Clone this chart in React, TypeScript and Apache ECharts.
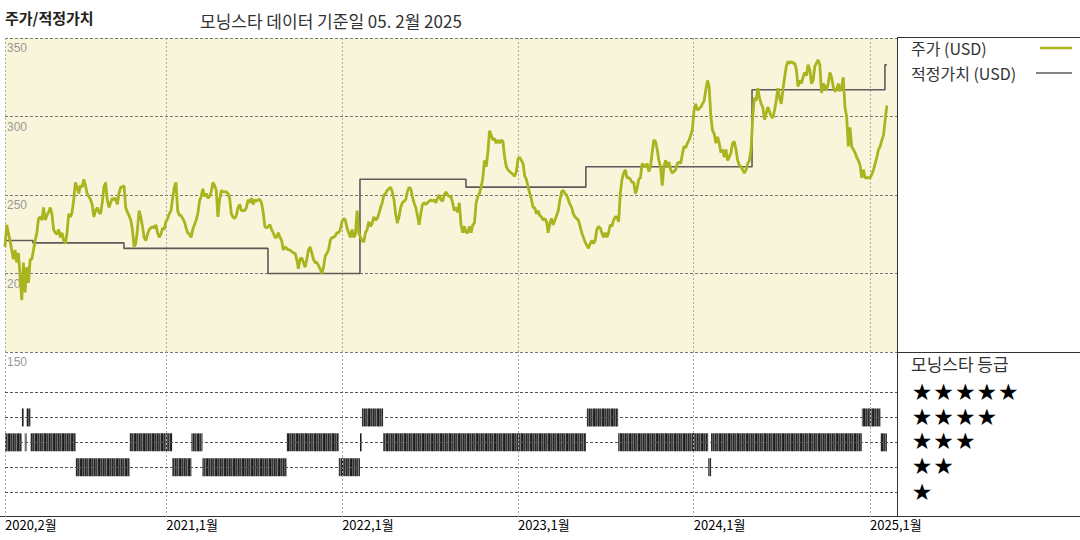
import React, { useEffect, useRef } from 'react';
import * as echarts from 'echarts';

// ---- Data ----
const PRICE_START = '2020-02-01';
const PRICE_END = '2025-02-05';
// Share price (USD) at roughly half-week spacing
const PRICE_USD = [
  217, 231, 226, 221, 215, 209, 215, 207, 213, 198, 183,
  207, 188, 204, 194, 209, 209, 215, 221, 226, 235,
  236, 234, 242, 234, 237, 239, 242, 238, 228, 226,
  225, 228, 223, 226, 221, 219, 226, 238, 236, 239,
  247, 258, 255, 251, 256, 255, 260, 256, 251, 249,
  247, 244, 236, 240, 242, 239, 238, 245, 255, 258,
  247, 242, 245, 248, 247, 248, 244, 251, 255, 255,
  256, 242, 239, 237, 234, 228, 217, 219, 228, 240,
  236, 230, 223, 221, 225, 228, 229, 230, 229, 231,
  226, 223, 225, 229, 228, 233, 235, 238, 240, 248,
  255, 258,
  240, 237, 237, 235, 233, 229, 226, 225, 223, 228,
  231, 234, 238, 246, 249, 254, 249, 251, 248, 249,
  252, 258, 256, 253, 236, 247, 253, 252, 252, 252,
  251, 248, 238, 236, 235, 237, 242, 244, 240, 240,
  240, 242, 247, 245, 248, 244, 247, 246, 247, 247,
  245, 239, 230, 229, 230, 231, 228, 226, 223, 223,
  226, 223, 221, 215, 217, 216, 215, 215, 214, 213,
  213, 209, 203, 209, 210, 207, 204, 209, 215, 217,
  213, 209, 207, 207, 205, 203, 200, 204, 211, 213,
  215, 221, 223, 223, 224, 226, 226, 228, 233, 235,
  234,
  229, 226, 223, 228, 223, 225, 240, 226, 223, 221,
  220, 226, 228, 233, 230, 232, 236, 234, 235, 238,
  242, 245, 250, 251, 253, 254, 255, 252, 247, 238,
  232, 236, 242, 245, 246, 247, 252, 255, 254, 249,
  245, 242, 237, 231, 238, 244, 245, 244, 245, 246,
  247, 246, 247, 245, 248, 250, 247, 246, 250, 252,
  250, 249, 249, 245, 240, 242, 239, 245, 231, 226,
  230, 226, 226, 230, 226, 231, 232, 245, 249, 251,
  255, 261, 272, 268, 277, 291, 288, 285, 286, 283,
  285, 283, 285, 284, 274, 268, 266, 265, 264, 263,
  262, 265, 273, 274, 272, 270, 262, 260,
  255, 251, 247, 242, 242, 238, 240, 237, 236, 234,
  235, 233, 226, 232, 235, 231, 234, 237, 240, 247,
  252, 253, 251, 250, 247, 244, 242, 238, 236, 235,
  234, 230, 226, 223, 220, 218, 216, 219, 221, 219,
  221, 228, 230, 229, 226, 223, 226, 223, 226, 231,
  230, 234, 236, 236, 233, 251, 260, 264, 266, 261,
  261, 260, 258, 258, 251, 254, 260, 261, 270, 269,
  268, 270, 265, 268, 277, 285, 284, 279, 272, 268,
  256, 268, 272, 268, 271, 266, 264, 265, 266, 270,
  271, 270, 276, 281, 280, 283, 285, 288, 292, 304,
  308,
  304, 305, 306, 308, 310, 317, 323, 319, 300, 291,
  289, 283, 287, 283, 277, 279, 274, 279, 272, 274,
  277, 283, 284, 279, 272, 269, 268, 266, 264, 266,
  270, 272, 279, 300, 312, 310, 318, 312, 308, 306,
  298, 302, 306, 303, 300, 299, 304, 310, 318, 312,
  308, 317, 325, 332, 335, 334, 335, 334, 334, 330,
  319, 323, 321, 325, 328, 326, 333, 330, 321, 323,
  332, 334, 336, 333, 315, 321, 319, 317, 321, 328,
  325, 319, 316, 317, 321, 316, 319, 325, 306, 300,
  281, 293, 281, 279, 277, 274, 272, 269, 261, 266,
  261, 261, 261, 261, 263, 266, 270, 274, 279, 281,
  285, 288, 298, 307,
];

// Fair value (USD), step changes
const FAIR_VALUE_DATES = [
  '2020-02-01', '2020-03-30', '2020-10-05', '2021-07-31', '2022-02-07',
  '2022-09-15', '2023-05-22', '2024-05-01', '2025-02-01', '2025-02-05',
];
const FAIR_VALUE_USD = [221, 219.5, 216, 200, 260, 255, 268, 317, 333, 333];

// Morningstar rating periods
const RATING_FROM = [
  '2020-02-01', '2020-03-07', '2020-03-13', '2020-03-17', '2020-03-25', '2020-06-27',
  '2020-10-17', '2021-01-13', '2021-02-22', '2021-03-17', '2021-09-08', '2021-12-25',
  '2022-02-07', '2022-02-11', '2022-03-27', '2023-05-24', '2023-07-28', '2024-01-31',
  '2024-02-06', '2024-12-15', '2025-01-23',
];
const RATING_TO = [
  '2020-03-07', '2020-03-11', '2020-03-15', '2020-03-25', '2020-06-27', '2020-10-17',
  '2021-01-13', '2021-02-22', '2021-03-17', '2021-09-08', '2021-12-25', '2022-02-07',
  '2022-02-10', '2022-03-27', '2023-05-22', '2023-07-28', '2024-01-31', '2024-02-06',
  '2024-12-15', '2025-01-23', '2025-02-05',
];
const RATING_STARS = [3, 4, 3, 4, 3, 2, 3, 2, 3, 2, 3, 2, 3, 4, 3, 4, 3, 2, 3, 4, 3];

const AXIS_MIN = '2020-02-01';
const AXIS_MAX = '2025-02-26';
const X_TICKS = ['2020-02-01', '2021-01-01', '2022-01-01', '2023-01-01', '2024-01-01', '2025-01-01'];
const X_TICK_LABELS = ['2020,2월', '2021,1월', '2022,1월', '2023,1월', '2024,1월', '2025,1월'];
const STAR_ROWS = [5, 4, 3, 2, 1];

const TITLE = '주가/적정가치';
const SUBTITLE = '모닝스타 데이터 기준일 05. 2월 2025';
const LEGEND_PRICE = '주가 (USD)';
const LEGEND_FAIR = '적정가치 (USD)';
const RATING_TITLE = '모닝스타 등급';

const ts = (s: string) => Date.parse(s);
const KR = '"Noto Sans CJK KR", "Noto Sans", sans-serif';

function makeStripePattern(): any {
  const cols = ['#1c1c1c', '#5e5e5e', '#333333', '#6e6e6e', '#262626', '#555555', '#3a3a3a', '#7a7a7a', '#2b2b2b'];
  const c = document.createElement('canvas');
  c.width = cols.length;
  c.height = 4;
  const ctx = c.getContext('2d');
  if (!ctx) return '#474747';
  cols.forEach((col, i) => {
    ctx.fillStyle = col;
    ctx.fillRect(i, 0, 1, 4);
  });
  return { image: c, repeat: 'repeat' };
}

export default function App() {
  const ref = useRef<HTMLDivElement>(null);
  useEffect(() => {
    if (!ref.current) return;
    const chart = echarts.init(ref.current, undefined, { renderer: 'svg' });

    const t0 = ts(PRICE_START);
    const t1 = ts(PRICE_END);
    const step = (t1 - t0) / (PRICE_USD.length - 1);
    const priceData = PRICE_USD.map((v, i) => [t0 + i * step, v]);
    const fairData = FAIR_VALUE_DATES.map((d, i) => [ts(d), FAIR_VALUE_USD[i]]);
    const ratingData = RATING_STARS.map((s, i) => [ts(RATING_FROM[i]), ts(RATING_TO[i]), s]);
    const xTickTs = X_TICKS.map(ts);
    const stripe = makeStripePattern();

    const vLines = xTickTs.map((t) => ({
      xAxis: t,
      lineStyle: { color: '#aaaaaa', type: [2, 2], width: 1 },
    }));
    const rowLines = STAR_ROWS.map((r) => ({
      yAxis: r,
      lineStyle: { color: '#555555', type: [3, 2], width: 1 },
    }));

    const graphic: any[] = [
      { type: 'text', x: 5, y: 17, style: { text: TITLE, font: `bold 15px ${KR}`, fill: '#222', verticalAlign: 'middle' } },
      { type: 'text', x: 200, y: 20, style: { text: SUBTITLE, font: `17px ${KR}`, fill: '#333', verticalAlign: 'middle' } },
      { type: 'line', shape: { x1: 897, y1: 37.5, x2: 1080, y2: 37.5 }, style: { stroke: '#333', lineWidth: 1 } },
      { type: 'line', shape: { x1: 897, y1: 352.5, x2: 1080, y2: 352.5 }, style: { stroke: '#333', lineWidth: 1 } },
      { type: 'line', shape: { x1: 897.5, y1: 37, x2: 897.5, y2: 517 }, style: { stroke: '#333', lineWidth: 1 } },
      { type: 'line', shape: { x1: 0, y1: 516.5, x2: 1080, y2: 516.5 }, style: { stroke: '#333', lineWidth: 1 } },
      { type: 'text', x: 911, y: 48, style: { text: LEGEND_PRICE, font: `16px ${KR}`, fill: '#333', verticalAlign: 'middle' } },
      { type: 'line', shape: { x1: 1040, y1: 48, x2: 1072, y2: 48 }, style: { stroke: '#a9b41f', lineWidth: 2.5 } },
      { type: 'text', x: 911, y: 73, style: { text: LEGEND_FAIR, font: `16px ${KR}`, fill: '#333', verticalAlign: 'middle' } },
      { type: 'line', shape: { x1: 1036, y1: 73, x2: 1072, y2: 73 }, style: { stroke: '#5b5b5b', lineWidth: 1.5 } },
      { type: 'text', x: 911, y: 363, style: { text: RATING_TITLE, font: `17px ${KR}`, fill: '#333', verticalAlign: 'middle' } },
    ];
    const rowY = [392, 417, 441, 466, 492];
    STAR_ROWS.forEach((n, r) => {
      for (let k = 0; k < n; k++) {
        graphic.push({
          type: 'text',
          x: 922 + k * 21.6,
          y: rowY[r],
          style: { text: '★', font: '23px "DejaVu Sans"', fill: '#000', align: 'center', verticalAlign: 'middle' },
        });
      }
    });

    const labelFor = (v: number) => {
      let best = 0;
      xTickTs.forEach((t, i) => { if (Math.abs(t - v) < Math.abs(xTickTs[best] - v)) best = i; });
      return X_TICK_LABELS[best];
    };

    const option: any = {
      animation: false,
      backgroundColor: '#ffffff',
      grid: [
        { left: 5, top: 38, width: 892, height: 314, show: true, backgroundColor: '#f9f5da', borderWidth: 0 },
        { left: 5, top: 352, width: 892, height: 165, show: false },
      ],
      xAxis: [
        {
          type: 'value', gridIndex: 0, min: ts(AXIS_MIN), max: ts(AXIS_MAX),
          axisLine: { show: false }, axisTick: { show: false }, axisLabel: { show: false }, splitLine: { show: false },
        },
        {
          type: 'value', gridIndex: 1, min: ts(AXIS_MIN), max: ts(AXIS_MAX),
          axisLine: { show: false }, axisTick: { show: false }, splitLine: { show: false },
          axisLabel: {
            show: true,
            customValues: xTickTs,
            formatter: (v: number) => labelFor(v),
            align: 'left', margin: 1, color: '#000', fontSize: 13, fontFamily: KR,
            hideOverlap: false,
          },
        },
      ],
      yAxis: [
        {
          type: 'value', gridIndex: 0, min: 150, max: 350, interval: 50,
          axisLine: { show: false }, axisTick: { show: false },
          axisLabel: {
            inside: true, verticalAlign: 'top', align: 'left', margin: 2, padding: [4, 0, 0, 0],
            color: '#999', fontSize: 12, fontFamily: '"Liberation Sans", Arial, sans-serif',
          },
          splitLine: { show: true, lineStyle: { color: '#777', type: [3, 2], width: 1 } },
        },
        { type: 'value', gridIndex: 1, min: 0, max: 6.63, show: false, splitLine: { show: false } },
      ],
      series: [
        {
          type: 'line', name: LEGEND_FAIR, xAxisIndex: 0, yAxisIndex: 0, step: 'end',
          data: fairData, showSymbol: false, z: 3,
          lineStyle: { color: '#5b5b5b', width: 1.6 },
        },
        {
          type: 'line', name: LEGEND_PRICE, xAxisIndex: 0, yAxisIndex: 0,
          data: priceData, showSymbol: false, z: 4,
          lineStyle: { color: '#a9b41f', width: 2.8 },
          markLine: { silent: true, symbol: ['none', 'none'], label: { show: false }, data: vLines, z: 1 },
        },
        {
          type: 'custom', name: RATING_TITLE, xAxisIndex: 1, yAxisIndex: 1,
          encode: { x: [0, 1], y: 2 },
          data: ratingData,
          renderItem: (params: any, api: any) => {
            const s = api.coord([api.value(0), api.value(2)]);
            const e = api.coord([api.value(1), api.value(2)]);
            return {
              type: 'rect',
              shape: { x: s[0], y: s[1] - 9, width: Math.max(e[0] - s[0], 1.8), height: 18 },
              style: { fill: stripe },
            };
          },
          markLine: { silent: true, symbol: ['none', 'none'], label: { show: false }, data: [...vLines, ...rowLines] },
          z: 3,
        },
      ],
      graphic,
    };
    chart.setOption(option);
    return () => chart.dispose();
  }, []);
  return <div ref={ref} style={{ width: 1080, height: 540, position: 'absolute', left: 0, top: 0 }} />;
}
